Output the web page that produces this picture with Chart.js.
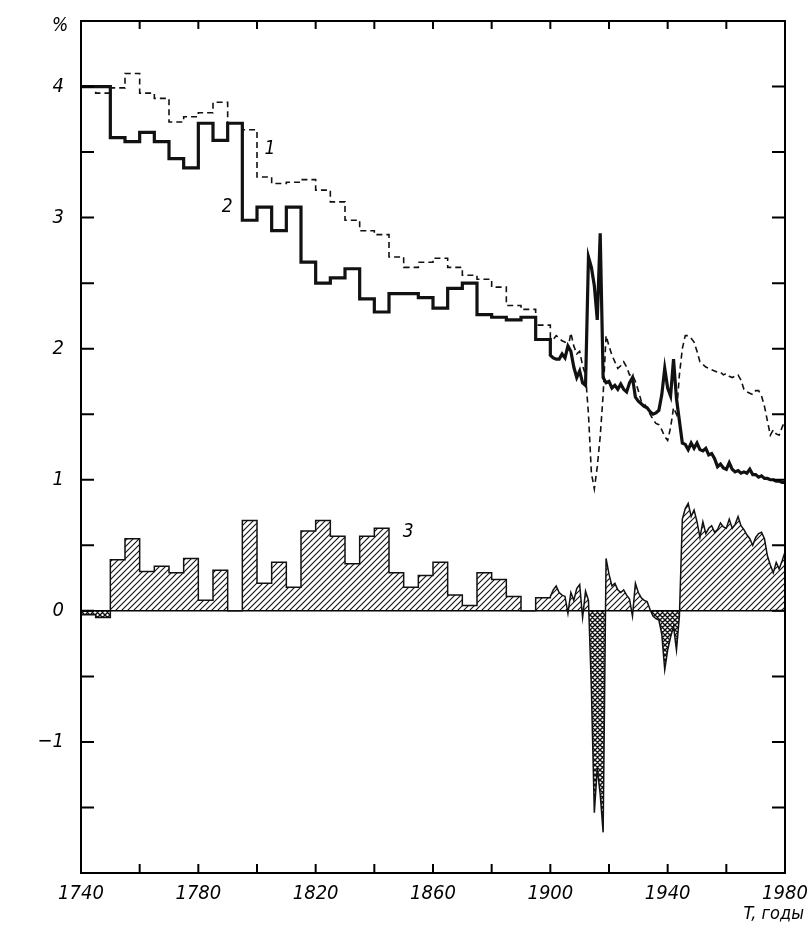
<!DOCTYPE html>
<html>
<head>
<meta charset="utf-8">
<script src="https://cdn.jsdelivr.net/npm/chart.js@4/dist/chart.umd.min.js"></script>
<style>
    html, body { margin: 0; padding: 0; background: #fff; }
    #wrap { width: 810px; height: 933px; }
</style>
</head>
<body>
<div id="wrap"><canvas id="chart" width="810" height="933"></canvas></div>
<script>
// Five-year periods before 1900 (step values), then yearly values
const stepStarts = [1740, 1745, 1750, 1755, 1760, 1765, 1770, 1775, 1780, 1785,
                    1790, 1795, 1800, 1805, 1810, 1815, 1820, 1825, 1830, 1835,
                    1840, 1845, 1850, 1855, 1860, 1865, 1870, 1875, 1880, 1885,
                    1890, 1895];
const stepEnd = 1900;

// curve 1 (dashed)
const series1Steps = [4.00, 3.95, 3.99, 4.10, 3.95, 3.91, 3.73, 3.77, 3.80, 3.88,
                      3.72, 3.67, 3.31, 3.26, 3.27, 3.29, 3.21, 3.12, 2.98, 2.90,
                      2.87, 2.70, 2.62, 2.66, 2.69, 2.62, 2.56, 2.53, 2.47, 2.33,
                      2.30, 2.18];
// curve 2 (solid)
const series2Steps = [4.00, 4.00, 3.61, 3.58, 3.65, 3.58, 3.45, 3.38, 3.72, 3.59,
                      3.72, 2.98, 3.08, 2.90, 3.08, 2.66, 2.50, 2.54, 2.61, 2.38,
                      2.28, 2.42, 2.42, 2.39, 2.31, 2.46, 2.50, 2.26, 2.24, 2.22,
                      2.24, 2.07];
// curve 3 (hatched difference)
const series3Steps = [-0.03, -0.05, 0.39, 0.55, 0.30, 0.34, 0.29, 0.40, 0.08, 0.31,
                      0.00, 0.69, 0.21, 0.37, 0.18, 0.61, 0.69, 0.57, 0.36, 0.57,
                      0.63, 0.29, 0.18, 0.27, 0.37, 0.12, 0.04, 0.29, 0.24, 0.11,
                      0.00, 0.10];

const annualYears = [];
for (let y = 1900; y <= 1980; y++) annualYears.push(y);

const series1Annual = [
    2.08, 2.07, 2.10, 2.08, 2.06, 2.05, 2.00, 2.12, 2.02, 1.96,   // 1900-1909
    1.98, 1.87, 1.80, 1.50, 1.05, 0.93, 1.10, 1.33, 1.65, 2.10,   // 1910-1919
    2.02, 1.95, 1.90, 1.85, 1.87, 1.90, 1.86, 1.80, 1.80, 1.75,   // 1920-1929
    1.68, 1.60, 1.58, 1.55, 1.50, 1.46, 1.43, 1.42, 1.38, 1.33,   // 1930-1939
    1.30, 1.40, 1.55, 1.50, 1.80, 2.00, 2.10, 2.10, 2.08, 2.05,   // 1940-1949
    1.98, 1.90, 1.88, 1.86, 1.85, 1.84, 1.83, 1.82, 1.82, 1.80,   // 1950-1959
    1.81, 1.79, 1.78, 1.79, 1.80, 1.76, 1.69, 1.67, 1.66, 1.65,   // 1960-1969
    1.68, 1.68, 1.64, 1.56, 1.45, 1.34, 1.38, 1.35, 1.34, 1.40,   // 1970-1979
    1.45                                                          // 1980
];
const series2Annual = [
    1.95, 1.93, 1.92, 1.92, 1.96, 1.93, 2.02, 1.98, 1.86, 1.78,
    1.83, 1.74, 1.72, 2.70, 2.62, 2.48, 2.22, 2.88, 1.78, 1.74,
    1.75, 1.70, 1.72, 1.69, 1.73, 1.69, 1.67, 1.74, 1.78, 1.63,
    1.60, 1.58, 1.56, 1.55, 1.52, 1.50, 1.51, 1.53, 1.65, 1.85,
    1.70, 1.64, 1.92, 1.62, 1.45, 1.28, 1.27, 1.23, 1.28, 1.24,
    1.28, 1.23, 1.22, 1.24, 1.19, 1.20, 1.16, 1.10, 1.12, 1.09,
    1.08, 1.13, 1.08, 1.06, 1.07, 1.05, 1.06, 1.05, 1.08, 1.04,
    1.04, 1.02, 1.03, 1.01, 1.01, 1.00, 1.00, 0.99, 0.99, 0.98,
    0.98
];
const series3Annual = [
    0.11, 0.16, 0.19, 0.14, 0.12, 0.11, -0.02, 0.14, 0.08, 0.17,
    0.20, -0.05, 0.15, 0.08, -0.60, -1.54, -1.20, -1.40, -1.69, 0.40,
    0.28, 0.19, 0.21, 0.16, 0.14, 0.16, 0.12, 0.09, -0.04, 0.21,
    0.14, 0.10, 0.08, 0.07, 0.01, -0.04, -0.06, -0.07, -0.18, -0.45,
    -0.30, -0.20, -0.12, -0.30, -0.04, 0.70, 0.78, 0.82, 0.72, 0.77,
    0.68, 0.56, 0.68, 0.59, 0.63, 0.65, 0.60, 0.62, 0.67, 0.64,
    0.63, 0.70, 0.63, 0.66, 0.72, 0.65, 0.62, 0.58, 0.55, 0.50,
    0.56, 0.59, 0.60, 0.55, 0.42, 0.35, 0.29, 0.37, 0.32, 0.38,
    0.45
];

// curve labels: [text, year, value]
const curveLabels = [['1', 1804.4, 3.52], ['2', 1789.8, 3.08], ['3', 1851.5, 0.60]];

const FONT = "'DejaVu Sans Condensed', 'DejaVu Sans', sans-serif";

function buildPoints(steps, annual) {
    const pts = [];
    steps.forEach((v, i) => {
        const x1 = i + 1 < stepStarts.length ? stepStarts[i + 1] : stepEnd;
        pts.push({ x: stepStarts[i], y: v }, { x: x1, y: v });
    });
    annual.forEach((v, i) => pts.push({ x: annualYears[i], y: v }));
    return pts;
}

function makeHatch(size, cross, lw) {
    const c = document.createElement('canvas');
    c.width = c.height = size;
    const g = c.getContext('2d');
    g.strokeStyle = '#111';
    g.lineWidth = lw;
    g.beginPath();
    g.moveTo(-1, size + 1); g.lineTo(size + 1, -1);
    g.moveTo(-1, 1); g.lineTo(1, -1);
    g.moveTo(size - 1, size + 1); g.lineTo(size + 1, size - 1);
    if (cross) {
        g.moveTo(-1, -1); g.lineTo(size + 1, size + 1);
        g.moveTo(size - 1, -1); g.lineTo(size + 1, 1);
        g.moveTo(-1, size - 1); g.lineTo(1, size + 1);
    }
    g.stroke();
    return g.createPattern(c, 'repeat');
}

const hatchUp = makeHatch(6, false, 1.1);
const hatchDown = makeHatch(5, true, 1.4);

// frame, inward ticks and free text
const framePlugin = {
    id: 'frame',
    afterDraw(chart) {
        const { ctx, chartArea: a, scales: { x, y } } = chart;
        ctx.save();
        ctx.strokeStyle = '#000';
        ctx.lineWidth = 2;
        ctx.strokeRect(a.left, a.top, a.right - a.left, a.bottom - a.top);
        ctx.beginPath();
        for (let v = 1760; v < 1980; v += 20) {
            const px = x.getPixelForValue(v);
            ctx.moveTo(px, a.top); ctx.lineTo(px, a.top + 8);
            ctx.moveTo(px, a.bottom); ctx.lineTo(px, a.bottom - 9);
        }
        for (let v = -1.5; v <= 4; v += 0.5) {
            const py = y.getPixelForValue(v);
            ctx.moveTo(a.left, py); ctx.lineTo(a.left + 13, py);
            ctx.moveTo(a.right, py); ctx.lineTo(a.right - 13, py);
        }
        ctx.stroke();

        ctx.fillStyle = '#000';
        ctx.font = `italic 19px ${FONT}`;
        ctx.textAlign = 'center';
        ctx.textBaseline = 'middle';
        curveLabels.forEach(([t, yr, v]) => {
            ctx.fillText(t, x.getPixelForValue(yr), y.getPixelForValue(v));
        });
        ctx.fillText('%', 60, 26);
        ctx.textAlign = 'right';
        ctx.font = `italic 18px ${FONT}`;
        ctx.fillText('T, годы', 804, 914);
        ctx.restore();
    }
};

new Chart(document.getElementById('chart'), {
    type: 'line',
    data: {
        datasets: [{
            label: '3',
            data: buildPoints(series3Steps, series3Annual),
            borderColor: '#111',
            borderWidth: 1.5,
            fill: { target: { value: 0 }, above: hatchUp, below: hatchDown },
            pointRadius: 0,
            tension: 0
        }, {
            label: '1',
            data: buildPoints(series1Steps, series1Annual),
            borderColor: '#111',
            borderWidth: 1.6,
            borderDash: [6, 4],
            fill: false,
            pointRadius: 0,
            tension: 0
        }, {
            label: '2',
            data: buildPoints(series2Steps, series2Annual),
            borderColor: '#111',
            borderWidth: 3.2,
            fill: false,
            pointRadius: 0,
            tension: 0
        }]
    },
    options: {
        responsive: false,
        animation: false,
        devicePixelRatio: 1,
        layout: { padding: { top: 21, right: 25, left: 0, bottom: 0 } },
        plugins: {
            legend: { display: false },
            tooltip: { enabled: false }
        },
        scales: {
            x: {
                type: 'linear',
                min: 1740,
                max: 1980,
                afterFit: (s) => {
                    s.height = 60;
                    s.paddingLeft = 0; s.paddingRight = 0;
                },
                grid: { display: false, drawTicks: false },
                border: { display: false },
                ticks: {
                    stepSize: 20,
                    autoSkip: false,
                    maxRotation: 0,
                    padding: 9,
                    color: '#000',
                    font: { family: FONT, style: 'italic', size: 20 },
                    callback: (v) => ((v - 1740) % 40 === 0 ? String(v) : '')
                }
            },
            y: {
                min: -2,
                max: 4.5,
                afterFit: (s) => {
                    s.width = 81;
                    s.paddingTop = 0; s.paddingBottom = 0;
                },
                grid: {
                    drawTicks: false,
                    color: (c) => (c.tick && c.tick.value === 0 ? '#000' : 'rgba(0,0,0,0)'),
                    lineWidth: 1.5
                },
                border: { display: false },
                ticks: {
                    stepSize: 0.5,
                    autoSkip: false,
                    padding: 17,
                    color: '#000',
                    font: { family: FONT, style: 'italic', size: 20 },
                    callback: (v) => (Number.isInteger(v) && v >= -1 && v <= 4 ? String(v).replace('-', '−') : '')
                }
            }
        }
    },
    plugins: [framePlugin]
});
</script>
</body>
</html>
